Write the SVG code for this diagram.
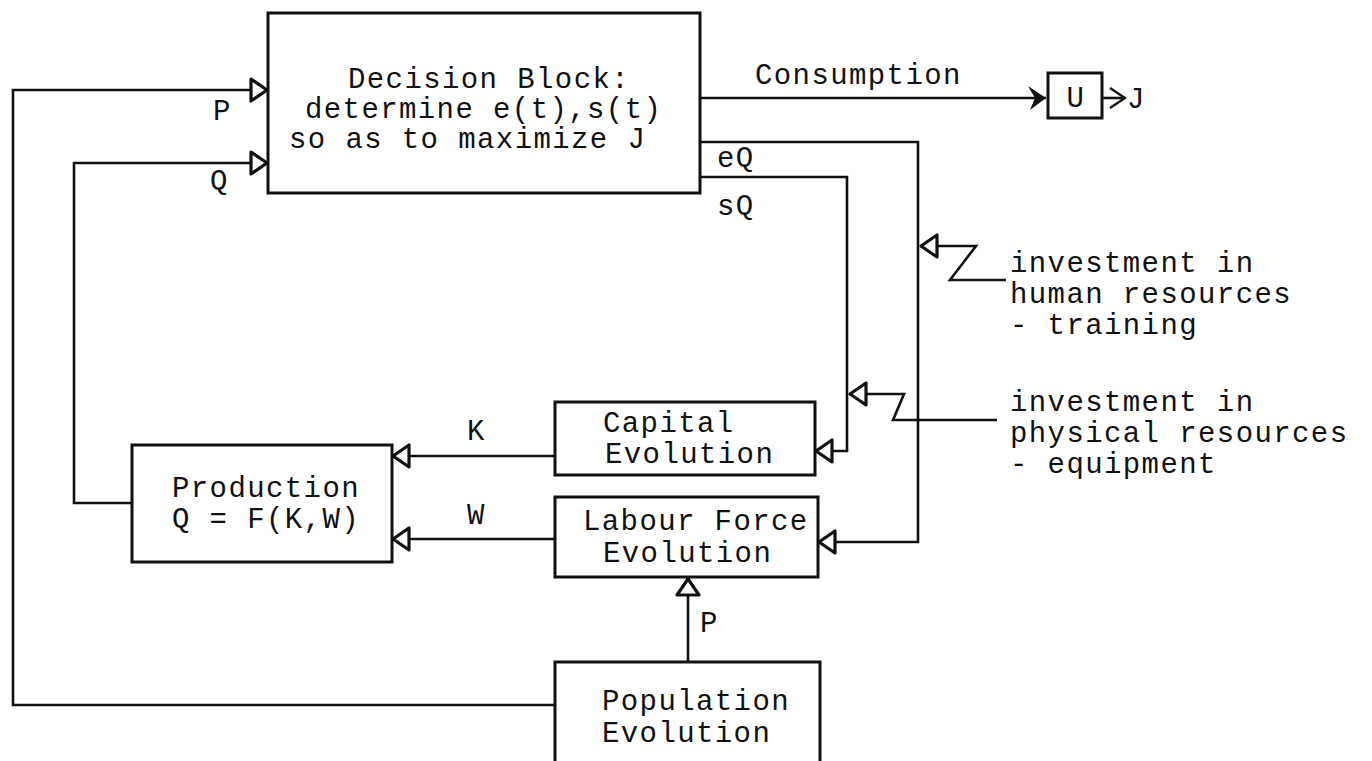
<svg xmlns="http://www.w3.org/2000/svg" width="1372" height="761" viewBox="0 0 1372 761">
<style>
  .box { fill: #fff; stroke: #111; stroke-width: 3; }
  .ln { fill: none; stroke: #111; stroke-width: 2.6; }
  .t { font-family: "Liberation Mono", "DejaVu Sans Mono", monospace; font-size: 29px; letter-spacing: 1.4px; fill: #111; }
</style>
<defs>
  <marker id="tri" markerUnits="userSpaceOnUse" viewBox="0 0 20 26" refX="19" refY="13" markerWidth="20" markerHeight="26" orient="auto">
    <path d="M2,2 L18,13 L2,24 Z" fill="#fff" stroke="#111" stroke-width="3.2" stroke-linejoin="round"/>
  </marker>
  <marker id="solid" markerUnits="userSpaceOnUse" viewBox="0 0 20 26" refX="19" refY="13" markerWidth="20" markerHeight="26" orient="auto">
    <path d="M1,1 L19,13 L3,25 L8,13 Z" fill="#111"/>
  </marker>
  <marker id="open" markerUnits="userSpaceOnUse" viewBox="0 0 20 26" refX="18" refY="13" markerWidth="20" markerHeight="26" orient="auto">
    <path d="M3,3 L18,13 L3,23" fill="none" stroke="#111" stroke-width="2.4"/>
  </marker>
</defs>
<rect width="1372" height="761" fill="#fff"/>

<g id="connectors">
  <path class="ln" d="M555,705 H13 V90 H268" marker-end="url(#tri)"/>
  <path class="ln" d="M132,503 H74 V163 H268" marker-end="url(#tri)"/>
  <path class="ln" d="M700,98 H1046" marker-end="url(#solid)"/>
  <path class="ln" d="M1102,98 H1125" marker-end="url(#open)"/>
  <path class="ln" d="M700,142 H918 V542 H818" marker-end="url(#tri)"/>
  <path class="ln" d="M700,177 H847 V451 H815" marker-end="url(#tri)"/>
  <path class="ln" d="M555,456 H392" marker-end="url(#tri)"/>
  <path class="ln" d="M555,539 H392" marker-end="url(#tri)"/>
  <path class="ln" d="M688,662 V578" marker-end="url(#tri)"/>
  <path class="ln" d="M1006,280 H950 L976,246 H920" marker-end="url(#tri)"/>
  <path class="ln" d="M997,420 H893 L904,394 H849" marker-end="url(#tri)"/>
  <text class="t" x="213" y="120">P</text>
  <text class="t" x="210" y="190">Q</text>
  <text class="t" x="755" y="84">Consumption</text>
  <text class="t" x="1127" y="108">J</text>
  <text class="t" x="717" y="167">eQ</text>
  <text class="t" x="717" y="215">sQ</text>
  <text class="t" x="467" y="440">K</text>
  <text class="t" x="467" y="524">W</text>
  <text class="t" x="700" y="632">P</text>
</g>

<g id="decision">
  <rect class="box" x="268" y="13" width="432" height="180"/>
  <text class="t" x="348" y="88">Decision Block:</text>
  <text class="t" x="305" y="118">determine e(t),s(t)</text>
  <text class="t" x="289" y="148">so as to maximize J</text>
</g>

<g id="utility">
  <rect class="box" x="1048" y="73" width="54" height="45"/>
  <text class="t" x="1076" y="107" text-anchor="middle">U</text>
</g>

<g id="production">
  <rect class="box" x="132" y="445" width="260" height="117"/>
  <text class="t" x="172" y="497">Production</text>
  <text class="t" x="172" y="528">Q = F(K,W)</text>
</g>

<g id="capital">
  <rect class="box" x="555" y="402" width="260" height="73"/>
  <text class="t" x="603" y="432">Capital</text>
  <text class="t" x="605" y="463">Evolution</text>
</g>

<g id="labour">
  <rect class="box" x="555" y="497" width="263" height="80"/>
  <text class="t" x="583" y="530">Labour Force</text>
  <text class="t" x="603" y="562">Evolution</text>
</g>

<g id="population">
  <rect class="box" x="555" y="662" width="265" height="130"/>
  <text class="t" x="602" y="710">Population</text>
  <text class="t" x="602" y="742">Evolution</text>
</g>

<g id="human-investment">
  <text class="t" x="1010" y="272">investment in</text>
  <text class="t" x="1010" y="303">human resources</text>
  <text class="t" x="1010" y="334">- training</text>
</g>

<g id="physical-investment">
  <text class="t" x="1010" y="411">investment in</text>
  <text class="t" x="1010" y="442">physical resources</text>
  <text class="t" x="1010" y="473">- equipment</text>
</g>
</svg>
